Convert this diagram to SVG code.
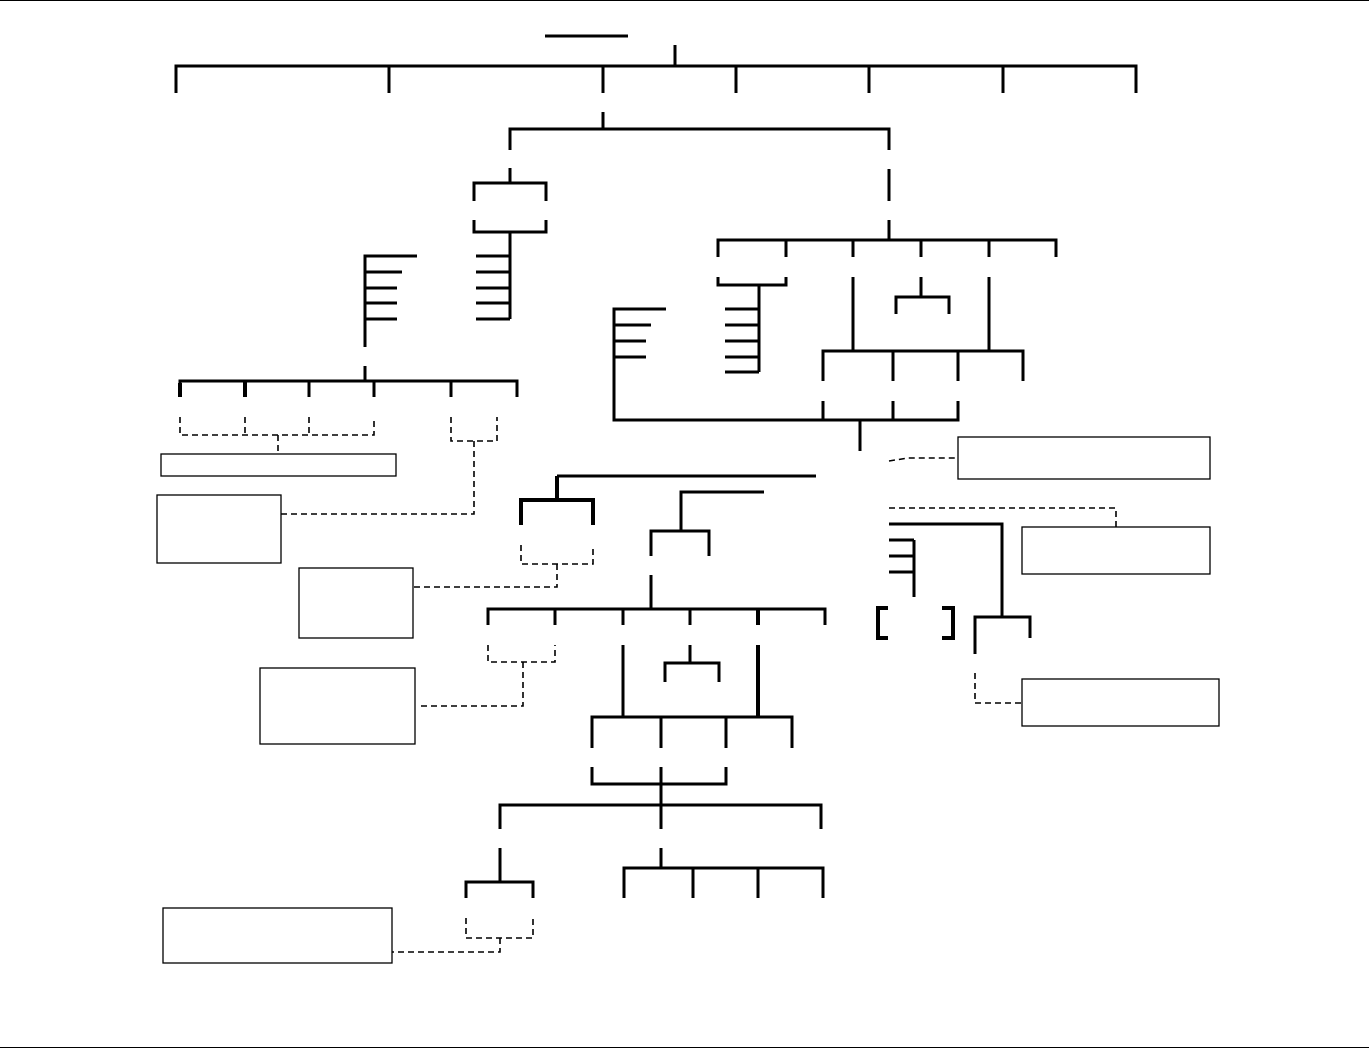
<svg xmlns="http://www.w3.org/2000/svg" width="1369" height="1049" viewBox="0 0 1369 1049">
<style>
.s{fill:none;stroke:#000;stroke-width:3;stroke-linejoin:miter}
.t{fill:none;stroke:#000;stroke-width:4}
.d{fill:none;stroke:#000;stroke-width:1.6;stroke-dasharray:6,4}
.b{fill:#fff;stroke:#000;stroke-width:1.3}
.f{fill:none;stroke:#000;stroke-width:1}
</style>
<rect width="1369" height="1049" fill="#fff"/>
<g id="frame">
<path class="f" d="M0 0.5H1369M0 1047.5H1369"/>
</g>
<g id="connectors">
<path class="s" d="M545 36H628M675 45V66M176 93V66H1136V93M389 66V93M603 66V93M736 66V93M869 66V93M1003 66V93"/>
<path class="s" d="M603 112V129M510 150V129H889V150M510 168V183M474 201V183H546V201M474 220V232H546V220M510 232V319M476 256H510M476 272H510M476 288H510M476 303H510M476 319H510"/>
<path class="s" d="M417 256H365V347M365 272H402M365 288H397M365 303H397M365 319H397M365 366V381M180 397V381H517V397M309 381V397M374 381V397M451 381V397"/>
<path class="t" d="M180 383V397M245 381V397"/>
<path class="s" d="M889 169V201M889 220V240M718 257V240H1056V257M786 240V257M853 240V257M921 240V257M989 240V257"/>
<path class="s" d="M718 277V285H786V277M759 285V372M725 309H759M725 325H759M725 341H759M725 357H759M725 372H759"/>
<path class="s" d="M666 309H614V420H958V401M614 325H651M614 341H646M614 357H646"/>
<path class="s" d="M853 277V351M989 277V351M921 277V297M896 314V297H949V314M823 381V351H1023V381M893 351V381M958 351V381M823 401V420M893 401V420M860 420V451"/>
<path class="s" d="M557 476H816M764 492H681V531M651 556V531H709V556M651 575V609M488 625V609H825V625M555 609V625M623 609V625M690 609V625"/>
<path class="t" d="M557 500V476M521 525V500H593V525M758 609V625"/>
<path class="s" d="M623 645V717M690 645V663M665 682V663H719V682M592 748V717H792V748M661 717V748M726 717V748"/>
<path class="t" d="M758 645V717"/>
<path class="s" d="M592 767V784H726V767M661 767V829M500 829V805H821V829M500 848V882M466 898V882H533V898M661 848V868M624 898V868H823V898M693 868V898M758 868V898"/>
<path class="s" d="M889 524H1002V617M975 654V617H1030V638M914 540V597M889 540H914M889 556H914M889 572H914"/>
<path class="t" d="M888 608H878V638H888M942 608H953V638H942"/>
<path class="d" d="M180 417V435H374V417M245 417V435M309 417V435M278 435V454"/>
<path class="d" d="M451 417V441H497V417M474 441V514H281"/>
<path class="d" d="M521 545V564H593V545M557 564V587H413"/>
<path class="d" d="M488 645V662H555V645M523 662V706H417"/>
<path class="d" d="M466 918V938H533V918M500 938V952H392"/>
<path class="d" d="M889 461L908 458H958M889 508H1116V527M975 673V703H1022"/>
</g>
<g id="node1"><rect class="b" x="161" y="454" width="235" height="22"/></g>
<g id="node2"><rect class="b" x="157" y="495" width="124" height="68"/></g>
<g id="node3"><rect class="b" x="299" y="568" width="114" height="70"/></g>
<g id="node4"><rect class="b" x="260" y="668" width="155" height="76"/></g>
<g id="node5"><rect class="b" x="163" y="908" width="229" height="55"/></g>
<g id="node6"><rect class="b" x="958" y="437" width="252" height="42"/></g>
<g id="node7"><rect class="b" x="1022" y="527" width="188" height="47"/></g>
<g id="node8"><rect class="b" x="1022" y="679" width="197" height="47"/></g>
</svg>
